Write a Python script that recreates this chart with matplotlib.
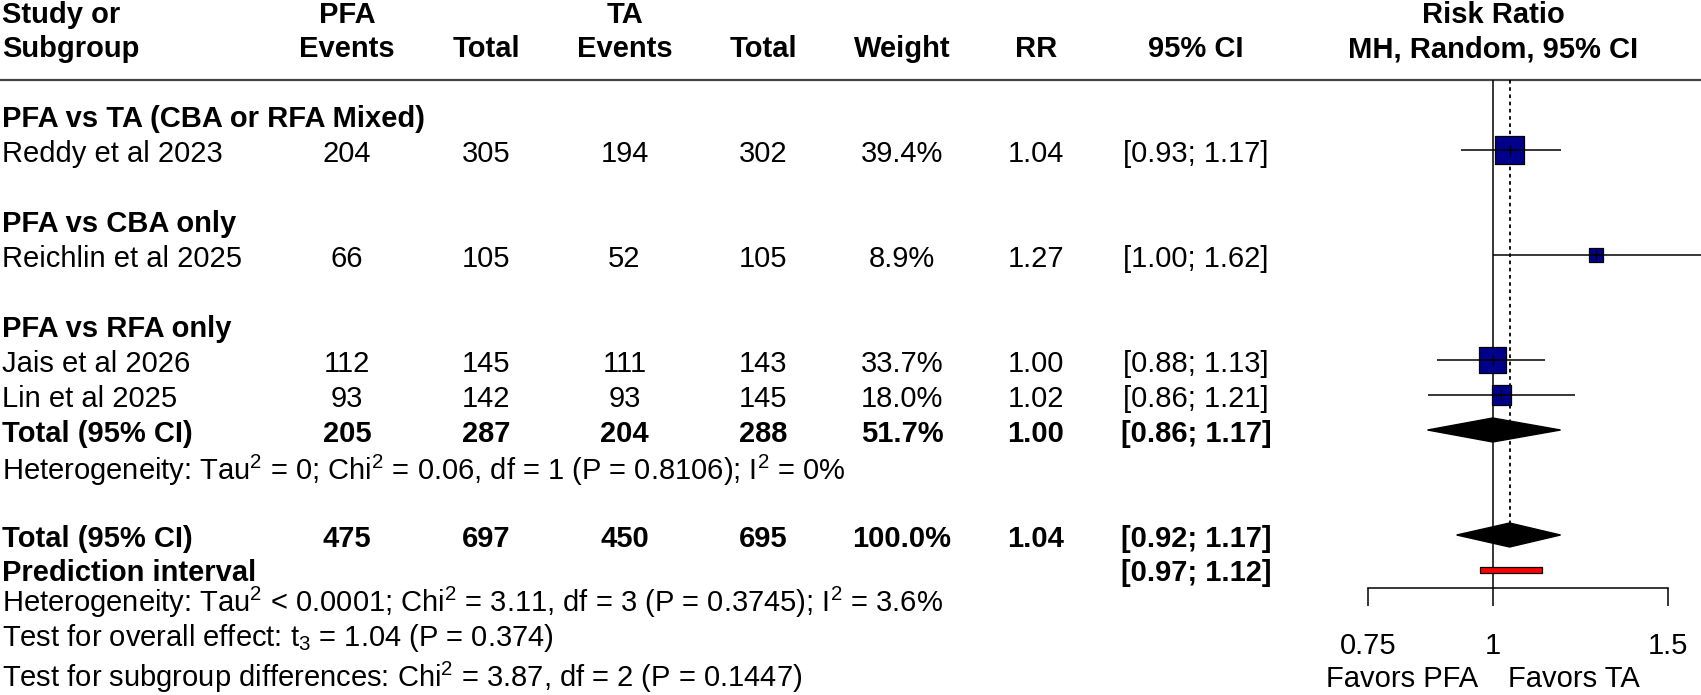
import numpy as np
import matplotlib
matplotlib.use("Agg")
import matplotlib.pyplot as plt
from matplotlib.ticker import NullLocator, FixedLocator

plt.rcParams['font.family'] = ['Liberation Sans', 'DejaVu Sans']
plt.rcParams['mathtext.fontset'] = 'custom'
plt.rcParams['mathtext.rm'] = 'Liberation Sans'
plt.rcParams['mathtext.it'] = 'Liberation Sans:italic'
plt.rcParams['mathtext.bf'] = 'Liberation Sans:bold'
plt.rcParams['mathtext.default'] = 'rm'

# ---- data ----
subgroups = ["PFA vs TA (CBA or RFA Mixed)", "PFA vs CBA only", "PFA vs RFA only"]
subgroup_rows = [0, 3, 6]

studies = ["Reddy et al 2023", "Reichlin et al 2025", "Jais et al 2026", "Lin et al 2025"]
study_rows = [1, 4, 7, 8]
pfa_events = [204, 66, 112, 93]
pfa_total = [305, 105, 145, 142]
ta_events = [194, 52, 111, 93]
ta_total = [302, 105, 143, 145]
weights = [39.4, 8.9, 33.7, 18.0]
rr = [1.04, 1.27, 1.00, 1.02]
ci_lo = [0.93, 1.00, 0.88, 0.86]
ci_hi = [1.17, 1.62, 1.13, 1.21]

pooled_labels = ["Total (95% CI)", "Total (95% CI)"]
pooled_rows = [9, 12]
pooled_pfa_events = [205, 475]
pooled_pfa_total = [287, 697]
pooled_ta_events = [204, 450]
pooled_ta_total = [288, 695]
pooled_weights = ["51.7%", "100.0%"]
pooled_rr = [1.00, 1.04]
pooled_lo = [0.86, 0.92]
pooled_hi = [1.17, 1.17]

overall_rr = 1.04
pi_row = 13
pi_lo, pi_hi = 0.97, 1.12

notes = [
    "Heterogeneity: Tau$^2$ = 0; Chi$^2$ = 0.06, df = 1 (P = 0.8106); I$^2$ = 0%",
    "Heterogeneity: Tau$^2$ < 0.0001; Chi$^2$ = 3.11, df = 3 (P = 0.3745); I$^2$ = 3.6%",
    "Test for overall effect: t$_3$ = 1.04 (P = 0.374)",
    "Test for subgroup differences: Chi$^2$ = 3.87, df = 2 (P = 0.1447)",
]

xticks = [0.75, 1, 1.5]
xtick_labels = ["0.75", "1", "1.5"]

# ---- layout ----
W, H = 1701, 695
FS = 21.0
ROW0, ROWH = 115, 35          # pixel y of row 0, row height


def row(px):
    return (px - ROW0) / ROWH


BASE = 0.357                  # baseline offset (rows) so caps sit on the row
col_x = [347, 486, 624.5, 763, 902, 1036, 1196]
note_px = [468, 600, 634, 674.7]

fig = plt.figure(figsize=(W / 100, H / 100), dpi=100)
tab = fig.add_axes([0, 0, 1, 1])
tab.set_xlim(0, W)
tab.set_ylim(row(H), row(0))
tab.axis('off')


def put(x, y, s, bold=False, ha='center', axes=None):
    (axes or tab).text(x, y + BASE, s, ha=ha, va='baseline', fontsize=FS,
                       fontweight='bold' if bold else 'normal')


# header
h1, h2 = row(10.5), row(44.7)
put(2, h1, "Study or", True, 'left')
put(2, h2, "Subgroup", True, 'left')
put(col_x[0], h1, "PFA", True)
put(col_x[0], h2, "Events", True)
put(col_x[1], h2, "Total", True)
put(col_x[2], h1, "TA", True)
put(col_x[2], h2, "Events", True)
put(col_x[3], h2, "Total", True)
put(col_x[4], h2, "Weight", True)
put(col_x[5], h2, "RR", True)
put(col_x[6], h2, "95% CI", True)
put(1493, h1, "Risk Ratio", True)
put(1493, h2, "MH, Random, 95% CI", True)
tab.axhline(-1, color='#444444', lw=1.6)

for name, r in zip(subgroups, subgroup_rows):
    put(2, r, name, True, 'left')

for i, r in enumerate(study_rows):
    put(2, r, studies[i], ha='left')
    vals = [pfa_events[i], pfa_total[i], ta_events[i], ta_total[i],
            f"{weights[i]:.1f}%", f"{rr[i]:.2f}", f"[{ci_lo[i]:.2f}; {ci_hi[i]:.2f}]"]
    for x, v in zip(col_x, vals):
        put(x, r, str(v))

for i, r in enumerate(pooled_rows):
    put(2, r, pooled_labels[i], True, 'left')
    vals = [pooled_pfa_events[i], pooled_pfa_total[i], pooled_ta_events[i],
            pooled_ta_total[i], pooled_weights[i], f"{pooled_rr[i]:.2f}",
            f"[{pooled_lo[i]:.2f}; {pooled_hi[i]:.2f}]"]
    for x, v in zip(col_x, vals):
        put(x, r, str(v), True)

pi_text_y = row(568.5)
put(2, pi_text_y, "Prediction interval", True, 'left')
put(col_x[6], pi_text_y, f"[{pi_lo:.2f}; {pi_hi:.2f}]", True)

for py, s in zip(note_px, notes):
    put(2, row(py), s, ha='left')

# ---- forest panel ----
L = 1270
ax = fig.add_axes([L / W, 0, (W - L) / W, 1])
ax.set_xscale('log')
ax.set_xlim(np.exp(-(1492.7 - L) / 432), np.exp((W - 1492.7) / 432))
ax.set_ylim(row(H), row(0))
ax.patch.set_visible(False)
for s in ['left', 'right', 'top']:
    ax.spines[s].set_visible(False)
axis_y = row(588.3)
ax.spines['bottom'].set_position(('data', axis_y))
ax.spines['bottom'].set_bounds(xticks[0], xticks[-1])
ax.spines['bottom'].set_linewidth(1.1)
ax.xaxis.set_major_locator(FixedLocator(xticks))
ax.xaxis.set_minor_locator(NullLocator())
ax.set_xticklabels([])
ax.tick_params(axis='x', direction='out', length=13, width=1.1)
ax.set_yticks([])

for t, lab in zip(xticks, xtick_labels):
    put(t, row(641.7), lab, axes=ax)
put(1478, row(674.7), "Favors PFA", ha='right')
put(1508, row(674.7), "Favors TA", ha='left')

# reference lines
ax.vlines(1, -1, axis_y, color='black', lw=1.1, zorder=2)
dh = 12 / ROWH
ax.vlines(overall_rr, -1, pooled_rows[-1] - dh, color='black', lw=1.3,
          linestyles=(0, (2, 2)), zorder=2)

# studies
sizes = np.array(weights) * (28.7 * 0.72) ** 2 / 39.4
ax.scatter(rr, study_rows, marker='s', s=sizes, color='#00008B',
           edgecolors='black', linewidths=0.9, zorder=3)
ax.hlines(study_rows, ci_lo, ci_hi, color='black', lw=1.1, zorder=4)
ax.scatter(rr, study_rows, marker='|', s=45, color='black', linewidths=1.0, zorder=5)

# pooled diamonds
for est, lo, hi, r in zip(pooled_rr, pooled_lo, pooled_hi, pooled_rows):
    ax.fill([lo, est, hi, est], [r, r - dh, r, r + dh], color='black', zorder=4)

# prediction interval
ax.barh(pi_row, pi_hi - pi_lo, left=pi_lo, height=6 / ROWH, color='red',
        edgecolor='black', linewidth=0.9, zorder=4)

fig.savefig("out.png", dpi=100)
